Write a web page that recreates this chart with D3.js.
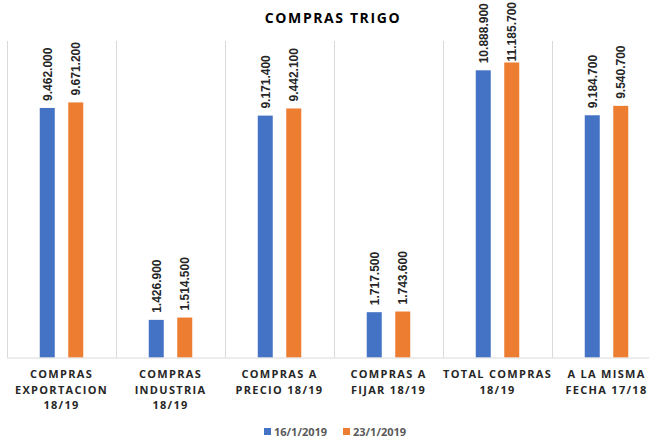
<!DOCTYPE html>
<html>
<head>
<meta charset="utf-8">
<script src="https://cdn.jsdelivr.net/npm/d3@7"></script>
<style>
  body { margin: 0; background: #fff; }
  svg { display: block; }
</style>
</head>
<body>
<div id="chart"></div>
<script>
// data
var categories = [
  ['COMPRAS', 'EXPORTACION', '18/19'],
  ['COMPRAS', 'INDUSTRIA', '18/19'],
  ['COMPRAS A', 'PRECIO 18/19'],
  ['COMPRAS A', 'FIJAR 18/19'],
  ['TOTAL COMPRAS', '18/19'],
  ['A LA MISMA', 'FECHA 17/18']
];
var seriesNames = ['16/1/2019', '23/1/2019'];
var values16 = [9462000, 1426900, 9171400, 1717500, 10888900, 9184700];
var values23 = [9671200, 1514500, 9442100, 1743600, 11185700, 9540700];
var colors = ['#4472C4', '#ED7D31'];

var width = 649, height = 440;
var plotLeft = 7, plotRight = 661, plotTop = 41, plotBottom = 357.5;

var svg = d3.select('#chart').append('svg')
  .attr('width', width)
  .attr('height', height);

var x0 = d3.scaleBand()
  .domain(d3.range(categories.length))
  .range([plotLeft, plotRight])
  .padding(0);

var x1 = d3.scalePoint()
  .domain(seriesNames)
  .range([x0.bandwidth() / 2 - 14.25, x0.bandwidth() / 2 + 14.25]);

var y = d3.scaleLinear()
  .domain([0, 12000000])
  .range([plotBottom, plotTop]);

var fmt = function (v) {
  return d3.format(',')(v).replace(/,/g, '.');
};

// title
svg.append('text')
  .attr('x', 333)
  .attr('y', 23)
  .attr('text-anchor', 'middle')
  .attr('font-family', 'Open Sans, Liberation Sans, sans-serif')
  .attr('font-weight', 'bold')
  .attr('font-size', '14px')
  .attr('letter-spacing', '1.6px')
  .attr('fill', '#000')
  .text('COMPRAS TRIGO');

// category separators
var seps = d3.range(categories.length + 1);
svg.selectAll('.sep')
  .data(seps)
  .enter().append('line')
  .attr('class', 'sep')
  .attr('x1', function (d) { return Math.round(plotLeft + d * x0.step()) + 0.5; })
  .attr('x2', function (d) { return Math.round(plotLeft + d * x0.step()) + 0.5; })
  .attr('y1', plotTop)
  .attr('y2', plotBottom)
  .attr('stroke', '#d9d9d9')
  .attr('stroke-width', 1);

// bars
var series = [values16, values23];
series.forEach(function (vals, s) {
  var g = svg.append('g');
  g.selectAll('rect')
    .data(vals)
    .enter().append('rect')
    .attr('x', function (d, i) { return x0(i) + x1(seriesNames[s]) - 7.5; })
    .attr('y', function (d) { return y(d); })
    .attr('width', 15)
    .attr('height', function (d) { return y(0) - y(d); })
    .attr('fill', colors[s]);

  g.selectAll('text')
    .data(vals)
    .enter().append('text')
    .attr('font-family', 'Liberation Sans, Arial, sans-serif')
    .attr('font-weight', 'bold')
    .attr('font-size', '12px')
    .attr('fill', '#262626')
    .text(function (d) { return fmt(d); })
    .attr('transform', function (d, i) {
      var cx = x0(i) + x1(seriesNames[s]) + 4.5;
      var len = this.getComputedTextLength();
      // keep the label inside the picture, like the spreadsheet does
      var yy = Math.max(y(d) - 7, len + 2);
      return 'translate(' + cx + ',' + yy + ') rotate(-90)';
    });
});

// baseline
svg.append('line')
  .attr('x1', plotLeft)
  .attr('x2', plotRight)
  .attr('y1', plotBottom + 0.5)
  .attr('y2', plotBottom + 0.5)
  .attr('stroke', '#d9d9d9')
  .attr('stroke-width', 1);

// category labels
var catG = svg.selectAll('.cat')
  .data(categories)
  .enter().append('text')
  .attr('class', 'cat')
  .attr('text-anchor', 'middle')
  .attr('font-family', 'Open Sans, Liberation Sans, sans-serif')
  .attr('font-weight', 'bold')
  .attr('font-size', '11px')
  .attr('letter-spacing', '1.3px')
  .attr('fill', '#262626');

catG.selectAll('tspan')
  .data(function (d, i) { return d.map(function (t) { return { t: t, i: i }; }); })
  .enter().append('tspan')
  .attr('x', function (d) { return x0(d.i) + x0.bandwidth() / 2; })
  .attr('y', function (d, j) { return 378 + j * 15.7; })
  .text(function (d) { return d.t; });

// legend
var legendX = [264, 343];
seriesNames.forEach(function (name, s) {
  svg.append('rect')
    .attr('x', legendX[s])
    .attr('y', 428)
    .attr('width', 7)
    .attr('height', 7)
    .attr('fill', colors[s]);
  svg.append('text')
    .attr('x', legendX[s] + 10)
    .attr('y', 436)
    .attr('font-family', 'Open Sans, Liberation Sans, sans-serif')
    .attr('font-weight', 'bold')
    .attr('font-size', '11px')
    .attr('fill', '#595959')
    .text(name);
});
</script>
</body>
</html>
